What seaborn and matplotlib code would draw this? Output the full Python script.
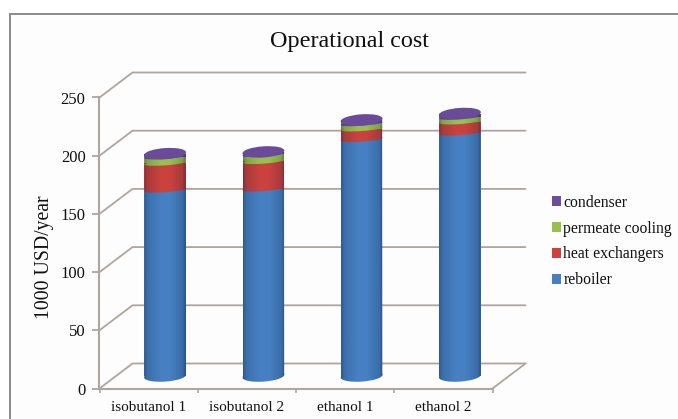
import numpy as np
import matplotlib
matplotlib.use("Agg")
import matplotlib.pyplot as plt
import seaborn as sns
from matplotlib.lines import Line2D
from matplotlib.patches import Circle, Patch, PathPatch, Rectangle
from matplotlib.path import Path
from matplotlib.transforms import Affine2D, IdentityTransform

categories = ["isobutanol 1", "isobutanol 2", "ethanol 1", "ethanol 2"]
reboiler = [160, 161, 203.5, 209]
heat_exchangers = [23, 23.5, 9, 9.5]
permeate_cooling = [5.5, 6, 4.5, 4]
condenser = [2.5, 2, 3, 3]
series_names = ["reboiler", "heat exchangers", "permeate cooling", "condenser"]
series_values = [reboiler, heat_exchangers, permeate_cooling, condenser]
series_colors = ["#4680C2", "#C9423E", "#98C04E", "#6D4E9C"]
y_ticks = [0, 50, 100, 150, 200, 250]

W, H = 678, 419
LINE = "#AEA59E"
DEPTH = np.array([33.0, 25.0])    # floor depth in pixels
BAR_W = 0.42
SEMI_MAJOR, SEMI_MINOR, SEAM_MINOR, TILT = 21.0, 5.6, 2.4, 4.0

sns.set_theme(style="white")
plt.rcParams["font.family"] = ["Liberation Serif", "DejaVu Serif"]

fig = plt.figure(figsize=(W / 100, H / 100), dpi=100, facecolor="white")
ax = fig.add_axes([99.5 / W, (H - 388.5) / H, 393 / W, 291 / H])
ax.set_facecolor("none")

# Stacked columns, one seaborn layer per cost item
bottom = np.zeros(len(categories))
layers = []
for name, vals, col in zip(series_names, series_values, series_colors):
    before = len(ax.patches)
    sns.barplot(x=categories, y=vals, bottom=bottom, color=col, saturation=1,
                width=BAR_W, linewidth=0, ax=ax, zorder=3)
    layers.append((ax.patches[before:], bottom.copy(), col))
    bottom = bottom + np.array(vals)

ax.set_xlim(-0.5, 3.5)
ax.set_ylim(0, 250)


def to_px(x, y):
    return ax.transData.transform((x, y))


def disc(x, y, color, zorder, minor):
    """Tilted ellipse closing a cylinder segment, centred on a data point."""
    px, py = to_px(x, y) + DEPTH / 2
    tr = Affine2D().scale(SEMI_MAJOR, minor).rotate_deg(TILT).translate(px, py)
    p = Circle((0, 0), 1, facecolor=color, edgecolor="none", zorder=zorder, clip_on=False)
    ax.add_artist(p)
    p.set_transform(tr)
    return p


# Back wall and floor lines
for v in y_ticks:
    a = to_px(-0.5, v)
    b = a + DEPTH
    c = to_px(3.5, v) + DEPTH
    ax.add_line(Line2D([a[0], b[0], c[0]], [a[1], b[1], c[1]], color=LINE, lw=1.3,
                       transform=IdentityTransform(), clip_on=False, zorder=1))
a = to_px(3.5, 0)
ax.add_line(Line2D([a[0], a[0] + DEPTH[0]], [a[1], a[1] + DEPTH[1]], color=LINE, lw=1.3,
                   transform=IdentityTransform(), clip_on=False, zorder=1))

# Cylinders: shift the bars halfway back, then round off every segment
shift = Affine2D().translate(*(DEPTH / 2))
z = 3.0
for k, (patches, bots, col) in enumerate(layers):
    z += 0.1
    for i, bar in enumerate(patches):
        bar.set_transform(ax.transData + shift)
        bar.set_clip_on(False)
        bar.set_zorder(z)
        disc(i, bots[i], col, z, SEMI_MINOR if k == 0 else SEAM_MINOR)

# Side shading over each full column
shade = np.interp(np.linspace(0, 1, 64), [0, 0.08, 0.4, 0.62, 0.92, 1], [0.36, 0.16, 0.0, 0.0, 0.18, 0.42])
rgba = np.zeros((1, 64, 4))
rgba[0, :, 3] = shade
rgba[0, :, :3] = [0.03, 0.08, 0.2]
for i, total in enumerate(bottom):
    x0, y0 = to_px(i, 0) + DEPTH / 2
    x1, y1 = to_px(i, total) + DEPTH / 2
    left = to_px(i - BAR_W / 2, 0)[0] + DEPTH[0] / 2
    right = to_px(i + BAR_W / 2, 0)[0] + DEPTH[0] / 2
    t = np.linspace(np.pi, 2 * np.pi, 40)
    cs, sn = np.cos(np.radians(TILT)), np.sin(np.radians(TILT))
    ex = x0 + SEMI_MAJOR * np.cos(t) * cs - SEMI_MINOR * np.sin(t) * sn
    ey = y0 + SEMI_MAJOR * np.cos(t) * sn + SEMI_MINOR * np.sin(t) * cs
    outline = np.column_stack([np.r_[ex, right, left], np.r_[ey, y1, y1]])
    clip = PathPatch(Path(np.vstack([outline, outline[0]]), closed=True), transform=IdentityTransform())
    im = ax.imshow(rgba, extent=(left, right, y0 - 10, y1 + 1), aspect="auto",
                   transform=IdentityTransform(), zorder=3.6, interpolation="bilinear")
    im.set_clip_path(clip)
    disc(i, total, "#6A4B9A", 3.8, SEMI_MINOR)

ax.set_xlim(-0.5, 3.5)
ax.set_ylim(0, 250)

# Axes
sns.despine(ax=ax)
for side in ("left", "bottom"):
    ax.spines[side].set_color(LINE)
    ax.spines[side].set_linewidth(1.5)
ax.set_yticks(y_ticks)
ax.set_xticks([-0.5, 0.5, 1.5, 2.5, 3.5], minor=True)
ax.tick_params(axis="x", which="major", length=0, labelsize=11, pad=9, labelcolor="#111111")
ax.tick_params(axis="x", which="minor", length=3, width=1.2, color=LINE, bottom=True)
ax.tick_params(axis="y", length=5, width=1.3, color=LINE, labelsize=12, pad=5, labelcolor="#111111", left=True)
ax.set_xlabel("")
ax.set_ylabel("")

fig.text(349 / W, 1 - 41 / H, "Operational cost", fontsize=17.4, ha="center", va="center", color="#111111")
fig.text(44 / W, 1 - 257 / H, "1000 USD/year", fontsize=14.2, rotation=90, ha="center", va="center", color="#111111")

# Legend entries listed top of the stack first
handles = [Patch(facecolor=c, edgecolor="none") for c in series_colors[::-1]]
fig.legend(handles, series_names[::-1], loc="center left",
           bbox_to_anchor=(552 / W, 1 - 241.5 / H), frameon=False, fontsize=11.3,
           labelspacing=0.62, handlelength=0.6, handleheight=0.6, handletextpad=0.12,
           labelcolor="#111111", borderpad=0, borderaxespad=0)

# Chart frame running off the page on the right and bottom
fig.add_artist(Rectangle((10 / W, -0.02), 1.02, 1 - 14 / H + 0.02, transform=fig.transFigure,
                         facecolor="#FDFDFD", edgecolor="#8A8A8A", lw=1.4, zorder=-5))

fig.savefig("out.png", dpi=100)
